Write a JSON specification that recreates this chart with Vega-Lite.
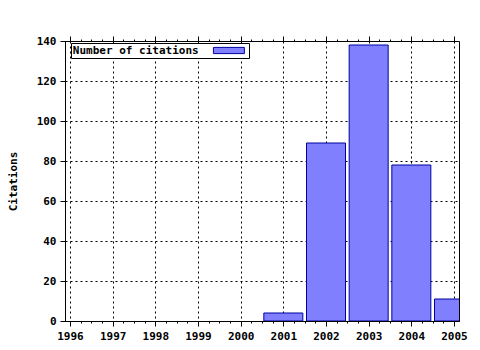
{
  "$schema": "https://vega.github.io/schema/vega-lite/v6.json",
  "width": 394,
  "height": 280,
  "autosize": {"type": "none"},
  "padding": {"left": 65, "top": 41, "right": 21, "bottom": 29},
  "background": "white",
  "config": {
    "view": {"stroke": "black", "strokeWidth": 1},
    "font": "DejaVu Sans Mono",
    "axis": {
      "labelFont": "DejaVu Sans Mono",
      "labelFontWeight": "bold",
      "labelFontSize": 11,
      "labelColor": "black",
      "titleFont": "DejaVu Sans Mono",
      "titleFontWeight": "bold",
      "titleFontSize": 11,
      "titleColor": "black",
      "domainColor": "black",
      "tickColor": "black",
      "gridColor": "black",
      "gridDash": [2, 3],
      "gridOpacity": 1,
      "gridWidth": 1
    }
  },
  "data": {
    "values": [
      {"year": 2001, "citations": 4},
      {"year": 2002, "citations": 89},
      {"year": 2003, "citations": 138},
      {"year": 2004, "citations": 78},
      {"year": 2005, "citations": 11}
    ]
  },
  "layer": [
    {
      "mark": {"type": "bar", "width": 39, "clip": true, "stroke": "#0000a0", "strokeWidth": 1},
      "encoding": {
        "x": {
          "field": "year", "type": "quantitative",
          "scale": {"domain": [1996, 2005], "nice": false, "zero": false},
          "axis": {"orient": "bottom", "values": [1996,1997,1998,1999,2000,2001,2002,2003,2004,2005], "format": "d", "title": null, "grid": true, "tickSize": 5, "labelPadding": 4, "domain": true, "labelFlush": false, "labelOverlap": false}
        },
        "y": {
          "field": "citations", "type": "quantitative",
          "scale": {"domain": [0, 140], "nice": false},
          "axis": {"values": [0,20,40,60,80,100,120,140], "title": "Citations", "grid": true, "tickSize": 5, "labelPadding": 4, "titlePadding": 18, "labelFlush": false}
        },
        "color": {
          "datum": "Number of citations",
          "scale": {"range": ["#8080ff"]},
          "legend": {
            "title": null,
            "orient": "none",
            "legendX": 6,
            "legendY": 2,
            "strokeColor": "black",
            "fillColor": "white",
            "padding": 2,
            "symbolType": "M-5,-1H5V1H-5Z",
            "symbolSize": 38.4,
            "symbolOffset": 150.4,
            "symbolStrokeColor": "#0000a0",
            "symbolStrokeWidth": 1,
            "labelFont": "DejaVu Sans Mono",
            "labelFontWeight": "bold",
            "labelFontSize": 11,
            "labelColor": "black",
            "labelAlign": "left",
            "labelOffset": -161.6,
            "labelLimit": 0
          }
        }
      }
    },
    {
      "mark": {"type": "point", "opacity": 0},
      "encoding": {
        "x": {"field": "year", "type": "quantitative",
          "axis": {"orient": "bottom", "values": [1996.25,1996.5,1996.75,1997.25,1997.5,1997.75,1998.25,1998.5,1998.75,1999.25,1999.5,1999.75,2000.25,2000.5,2000.75,2001.25,2001.5,2001.75,2002.25,2002.5,2002.75,2003.25,2003.5,2003.75,2004.25,2004.5,2004.75], "labels": false, "grid": false, "domain": false, "tickSize": 2, "title": null}}
      }
    },
    {
      "mark": {"type": "point", "opacity": 0},
      "encoding": {
        "x": {"field": "year", "type": "quantitative",
          "axis": {"orient": "top", "values": [1996,1997,1998,1999,2000,2001,2002,2003,2004,2005], "labels": false, "grid": false, "domain": false, "tickSize": 5, "title": null}}
      }
    },
    {
      "mark": {"type": "point", "opacity": 0},
      "encoding": {
        "x": {"field": "year", "type": "quantitative",
          "axis": {"orient": "top", "values": [1996.25,1996.5,1996.75,1997.25,1997.5,1997.75,1998.25,1998.5,1998.75,1999.25,1999.5,1999.75,2000.25,2000.5,2000.75,2001.25,2001.5,2001.75,2002.25,2002.5,2002.75,2003.25,2003.5,2003.75,2004.25,2004.5,2004.75], "labels": false, "grid": false, "domain": false, "tickSize": 2, "title": null}}
      }
    }
  ],
  "resolve": {"axis": {"x": "independent"}}
}
